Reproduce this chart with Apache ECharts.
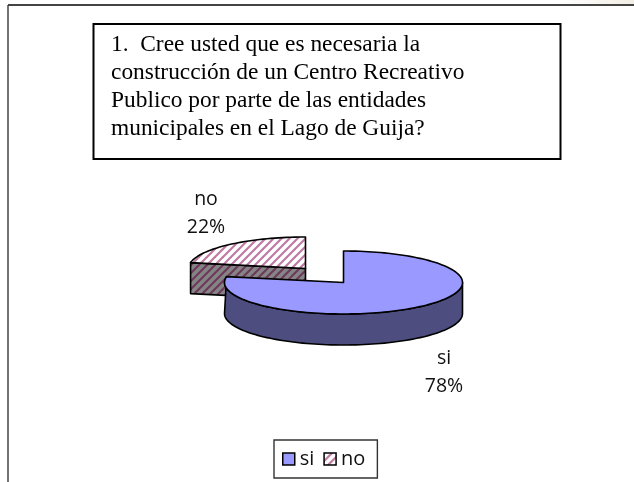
<!DOCTYPE html>
<html>
<head>
<meta charset="utf-8">
<script src="https://cdn.jsdelivr.net/npm/echarts@6/dist/echarts.min.js"></script>
<style>html,body{margin:0;padding:0;background:#fff}#c{width:634px;height:482px}</style>
</head>
<body>
<div id="c"></div>
<script>
var categories = ['si', 'no'];
var shares = [78, 22];
var questionLines = [
  '1.  Cree usted que es necesaria la',
  'construcción de un Centro Recreativo',
  'Publico por parte de las entidades',
  'municipales en el Lago de Guija?'
];

var LABEL_FONT = '"Open Sans","DejaVu Sans",sans-serif';

function stripes(bg, fg, w) {
  var s = 8, cv = document.createElement('canvas');
  cv.width = s; cv.height = s;
  var c = cv.getContext('2d');
  c.fillStyle = bg; c.fillRect(0, 0, s, s);
  c.strokeStyle = fg; c.lineWidth = w;
  [[-s, s, s, -s], [0, s, s, 0], [0, 2 * s, 2 * s, 0]].forEach(function (l) {
    c.beginPath(); c.moveTo(l[0], l[1]); c.lineTo(l[2], l[3]); c.stroke();
  });
  return { image: cv, repeat: 'repeat' };
}
var noTop = stripes('#ffffff', '#c07ba2', 2.2);
var noSide = stripes('#858585', '#6d3a5c', 2.2);

var total = shares.reduce(function (a, b) { return a + b; }, 0);
var RY = 31.5, DEPTH = 31;
var looks = {
  si: { cx: 343.5, cy: 282.5, rx: 119, top: '#9999ff', side: '#4d4d80', label: [444, 372] },
  no: { cx: 305.5, cy: 268.5, rx: 117, top: noTop, side: noSide, label: [206, 213] }
};

function rim(p, deg) {
  var a = deg * Math.PI / 180;
  return [p.cx + p.rx * Math.sin(a), p.cy - RY * Math.cos(a)];
}

function renderSlice(params, api) {
  var idx = api.value(0);
  var name = categories[idx];
  var p = looks[name];
  var start = 0;
  for (var j = 0; j < idx; j++) start += shares[j];
  var from = start / total * 360;
  var to = (start + api.value(1)) / total * 360;

  var top = [[p.cx, p.cy]], a;
  for (a = from; a < to; a += 2) top.push(rim(p, a));
  top.push(rim(p, to));

  var side = [];
  if (name === 'si') {
    // outer wall: front half of the rim, from the right extreme round to the left extreme
    var up = [], down = [];
    for (a = 90; a <= 270; a += 2) {
      var q = rim(p, a);
      up.push(q);
      down.push([q[0], q[1] + DEPTH]);
    }
    up.push(rim(p, to));
    side = up.concat(down.reverse());
  } else {
    var e = rim(p, from);
    side = [e, [p.cx, p.cy], [p.cx, p.cy + DEPTH], [e[0], e[1] + DEPTH]];
  }
  var pct = Math.round(api.value(1) / total * 100) + '%';
  return {
    type: 'group',
    children: [
      { type: 'polygon', shape: { points: side }, style: { fill: p.side, stroke: '#000', lineWidth: 1.6, lineJoin: 'round' } },
      { type: 'polygon', shape: { points: top }, style: { fill: p.top, stroke: '#000', lineWidth: 1.6, lineJoin: 'round' } },
      { type: 'text', x: p.label[0], y: p.label[1],
        style: { text: name + '\n' + pct, fill: '#111', font: '19.5px ' + LABEL_FONT, lineHeight: 28, align: 'center', verticalAlign: 'middle' } }
    ]
  };
}

var chart = echarts.init(document.getElementById('c'), null, { renderer: 'canvas' });
chart.setOption({
  animation: false,
  backgroundColor: '#fff',
  legend: {
    left: 274, top: 440, orient: 'horizontal',
    padding: [8, 12, 8, 8],
    borderColor: '#333', borderWidth: 1.4,
    itemWidth: 12, itemHeight: 12, itemGap: 9,
    textStyle: { fontFamily: LABEL_FONT, fontSize: 20, color: '#111', lineHeight: 22 },
    data: [
      { name: 'si', icon: 'rect', itemStyle: { color: '#9999ff', borderColor: '#000', borderWidth: 1.5 } },
      { name: 'no', icon: 'rect', itemStyle: { color: noTop, borderColor: '#000', borderWidth: 1.5 } }
    ]
  },
  graphic: [
    { type: 'rect', shape: { x: 560, y: 0, width: 74, height: 4 }, style: { fill: { type: 'linear', x: 0, y: 0, x2: 1, y2: 0, colorStops: [{ offset: 0, color: '#ffffff' }, { offset: 1, color: '#f3eee4' }] } } },
    { type: 'line', shape: { x1: 8, y1: 5, x2: 634, y2: 5 }, style: { stroke: '#444', lineWidth: 2 } },
    { type: 'line', shape: { x1: 8, y1: 5, x2: 8, y2: 482 }, style: { stroke: '#444', lineWidth: 1.5 } },
    { type: 'rect', shape: { x: 93.5, y: 24, width: 467, height: 135 }, style: { fill: '#fff', stroke: '#000', lineWidth: 2 } },
    { type: 'text', x: 111, y: 31, style: { text: questionLines.join('\n'), fill: '#000', font: '23.4px "Liberation Serif","Times New Roman",serif', lineHeight: 28 } }
  ],
  series: [
    { type: 'custom', name: 'no', coordinateSystem: 'none', renderItem: renderSlice, data: [[1, shares[1]]], z: 2 },
    { type: 'custom', name: 'si', coordinateSystem: 'none', renderItem: renderSlice, data: [[0, shares[0]]], z: 3 }
  ]
});
</script>
</body>
</html>
